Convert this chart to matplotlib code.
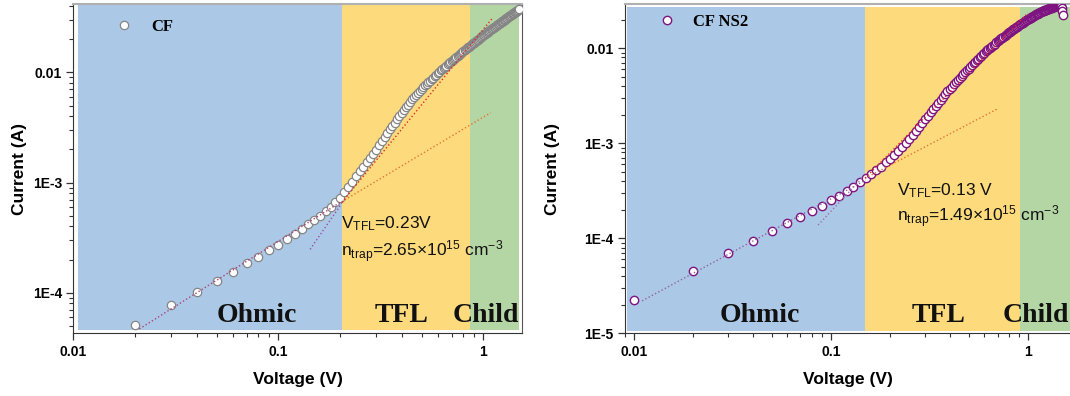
import numpy as np
import matplotlib
matplotlib.use('Agg')
import matplotlib.pyplot as plt
from matplotlib.ticker import LogLocator, NullFormatter

plt.rcParams['mathtext.fontset'] = 'custom'
plt.rcParams['mathtext.rm'] = 'Liberation Sans'
plt.rcParams['mathtext.it'] = 'Liberation Sans'
plt.rcParams['font.family'] = ['Liberation Sans', 'DejaVu Sans']

# sweep voltages (10 mV steps)
cf_voltage = np.arange(2, 151) / 100
ns2_voltage = np.arange(1, 151) / 100

# currents, in mA
cf_current_ma = [
    0.051, 0.077, 0.102, 0.128, 0.155, 0.185, 0.212, 0.246, 0.271,
    0.305, 0.341, 0.376, 0.417, 0.457, 0.500, 0.550, 0.605, 0.660, 0.720,
    0.814, 0.914, 1.02, 1.14, 1.26, 1.39, 1.53, 1.67, 1.82, 1.99,
    2.17, 2.37, 2.58, 2.80, 3.03, 3.26, 3.50, 3.75, 4.01, 4.28,
    4.54, 4.81, 5.09, 5.38, 5.68, 5.95, 6.22, 6.50, 6.79, 7.09,
    7.34, 7.60, 7.87, 8.14, 8.41, 8.69, 8.97, 9.26, 9.55, 9.84,
    10.1, 10.4, 10.7, 10.9, 11.2, 11.5, 11.8, 12.1, 12.4, 12.7,
    13.0, 13.3, 13.5, 13.8, 14.1, 14.4, 14.7, 15.0, 15.3, 15.6,
    15.9, 16.2, 16.5, 16.8, 17.1, 17.4, 17.7, 18.0, 18.3, 18.6,
    18.9, 19.2, 19.5, 19.8, 20.1, 20.4, 20.8, 21.1, 21.4, 21.7,
    22.0, 22.3, 22.6, 22.9, 23.2, 23.5, 23.9, 24.2, 24.5, 24.8,
    25.1, 25.4, 25.7, 26.0, 26.3, 26.7, 27.0, 27.3, 27.6, 27.9,
    28.2, 28.6, 28.9, 29.2, 29.5, 29.8, 30.1, 30.5, 30.8, 31.1,
    31.4, 31.8, 32.1, 32.4, 32.7, 33.0, 33.4, 33.7, 34.0, 34.3,
    34.7, 35.0, 35.3, 35.6, 35.9, 36.3, 36.6, 36.9, 37.2, 37.6,
]
ns2_current_ma = [
    0.0225, 0.0456, 0.0695, 0.094, 0.119, 0.144, 0.167, 0.195, 0.219, 0.253,
    0.281, 0.315, 0.349, 0.389, 0.428, 0.475, 0.524, 0.568, 0.630, 0.690,
    0.750, 0.830, 0.920, 1.01, 1.11, 1.23, 1.36, 1.50, 1.64, 1.80,
    1.95, 2.12, 2.29, 2.47, 2.66, 2.86, 3.07, 3.28, 3.51, 3.74,
    3.95, 4.17, 4.39, 4.62, 4.85, 5.09, 5.34, 5.59, 5.85, 6.11,
    6.37, 6.64, 6.91, 7.19, 7.47, 7.76, 8.05, 8.35, 8.66, 8.97,
    9.24, 9.51, 9.79, 10.1, 10.4, 10.6, 10.9, 11.2, 11.5, 11.8,
    12.1, 12.4, 12.7, 12.9, 13.2, 13.5, 13.8, 14.1, 14.4, 14.7,
    14.9, 15.2, 15.5, 15.8, 16.0, 16.3, 16.6, 16.9, 17.2, 17.5,
    17.8, 18.0, 18.3, 18.6, 18.9, 19.1, 19.4, 19.7, 20.0, 20.3,
    20.5, 20.8, 21.0, 21.2, 21.5, 21.7, 22.0, 22.2, 22.5, 22.7,
    22.9, 23.1, 23.3, 23.5, 23.8, 24.0, 24.2, 24.4, 24.6, 24.8,
    25.0, 25.1, 25.3, 25.4, 25.6, 25.8, 25.9, 26.1, 26.3, 26.4,
    26.6, 26.8, 27.0, 27.1, 27.3, 27.5, 27.6, 27.8, 28.0, 28.1,
    28.3, 28.4, 28.5, 28.6, 28.6, 28.4, 27.6, 26.2, 24.4, 22.5,
]

# fitted lines (end points, V and A)
cf_fit_ohmic_v, cf_fit_ohmic_i = [0.021, 0.20], [4.7e-5, 6.6e-4]
cf_fit_steep_v, cf_fit_steep_i = [0.143, 0.204], [2.48e-4, 6.47e-4]
cf_fit_orange_v, cf_fit_orange_i = [0.204, 1.086], [6.7e-4, 4.3e-3]
cf_fit_tfl_v, cf_fit_tfl_i = [0.204, 1.10], [6.6e-4, 3.05e-2]

ns2_fit_ohmic_v, ns2_fit_ohmic_i = [0.011, 0.15], [2.2e-5, 4.1e-4]
ns2_fit_steep_v, ns2_fit_steep_i = [0.086, 0.146], [1.38e-4, 4.45e-4]
ns2_fit_orange_v, ns2_fit_orange_i = [0.149, 0.694], [4.28e-4, 2.28e-3]
ns2_fit_tfl_v, ns2_fit_tfl_i = [0.149, 1.0], [4.3e-4, 2.35e-2]

# region limits (V)
cf_regions = [0.0105, 0.205, 0.861, 1.50]
ns2_regions = [0.0092, 0.148, 0.91, 1.70]
region_names = ['Ohmic', 'TFL', 'Child']
region_colors = ['#abc9e6', '#fddb7c', '#b4d6a4']

x_ticks = [0.01, 0.1, 1]
x_tick_labels = ['0.01', '0.1', '1']
cf_y_ticks = [1e-4, 1e-3, 1e-2]
cf_y_tick_labels = ['1E-4', '1E-3', '0.01']
ns2_y_ticks = [1e-5, 1e-4, 1e-3, 1e-2]
ns2_y_tick_labels = ['1E-5', '1E-4', '1E-3', '0.01']

SANS_B = dict(family='Liberation Sans', weight='bold')
SERIF_B = dict(family='Liberation Serif', weight='bold')


def style_axes(ax, xlim, ylim, yticks, ylabels, ypad):
    ax.set_xscale('log')
    ax.set_yscale('log')
    ax.set_xlim(*xlim)
    ax.set_ylim(*ylim)
    ax.set_xticks(x_ticks)
    ax.set_xticklabels(x_tick_labels, fontsize=10, **SANS_B)
    ax.set_yticks(yticks)
    ax.set_yticklabels(ylabels, fontsize=10, **SANS_B)
    for axis in (ax.xaxis, ax.yaxis):
        axis.set_minor_locator(LogLocator(base=10, subs=np.arange(2, 10)))
        axis.set_minor_formatter(NullFormatter())
    ax.tick_params(which='major', direction='out', length=5, width=0.9, color='#333333', pad=3)
    ax.tick_params(which='minor', direction='out', length=3, width=0.8, color='#333333')
    ax.spines['left'].set_color('#333333')
    ax.spines['bottom'].set_color('#333333')
    ax.spines['top'].set_color('#b0b0b0')
    ax.spines['top'].set_linewidth(1.5)
    ax.spines['right'].set_color('#555555')
    ax.set_xlabel('Voltage (V)', fontsize=12.5, labelpad=10, **SANS_B)
    ax.set_ylabel('Current (A)', fontsize=12.5, labelpad=ypad, **SANS_B)


def shade(ax, limits, ymin, ymax):
    for k in range(3):
        ax.axvspan(limits[k], limits[k + 1], ymin=ymin, ymax=ymax,
                   color=region_colors[k], lw=0, zorder=0)


fig = plt.figure(figsize=(10.7, 3.96), dpi=100)

# ---- left: CF ----
ax1 = fig.add_axes([0.0685, 0.158, 0.4191, 0.832])
shade(ax1, cf_regions, 0.010, 0.997)
cf_current = np.array(cf_current_ma) * 1e-3
ax1.plot(cf_voltage, cf_current, 'o', ms=6, mfc='white', mec='#858585', mew=0.9,
         label='CF', zorder=3)
ax1.plot(cf_fit_ohmic_v, cf_fit_ohmic_i, ':', color='#b0407a', lw=1.0, zorder=4)
ax1.plot(cf_fit_steep_v, cf_fit_steep_i, ':', color='#9a50a8', lw=1.0, zorder=4)
ax1.plot(cf_fit_orange_v, cf_fit_orange_i, ':', color='#e5742c', lw=1.0, zorder=4)
ax1.plot(cf_fit_tfl_v, cf_fit_tfl_i, ':', color='#dc2a2a', lw=1.0, zorder=4)
style_axes(ax1, (0.01, 1.54), (4.28e-5, 0.0417), cf_y_ticks, cf_y_tick_labels, 4.5)
ax1.legend(loc='upper left', bbox_to_anchor=(0.08, 0.975), frameon=False,
           handlelength=1.0, handletextpad=1.1, borderaxespad=0,
           prop=dict(family='Liberation Serif', weight='bold', size=12))
ax1.text(0.597, 0.32, r'V$_{\mathrm{TFL}}$=0.23V', transform=ax1.transAxes,
         fontsize=12.5, va='baseline', ha='left', color='#111111')
ax1.text(0.597, 0.232, r'n$_{\mathrm{trap}}$=2.65$\times$10$^{15}$ cm$^{-3}$',
         transform=ax1.transAxes, fontsize=12.5, va='baseline', ha='left', color='#111111')
for name, xf in zip(region_names, [0.409, 0.733, 0.92]):
    ax1.text(xf, 0.034, name, transform=ax1.transAxes, fontsize=20, ha='center',
             va='baseline', color='#111111', **SERIF_B)

# ---- right: CF NS2 ----
ax2 = fig.add_axes([0.584, 0.158, 0.4178, 0.832])
shade(ax2, ns2_regions, 0.007, 0.99)
ns2_current = np.array(ns2_current_ma) * 1e-3
ax2.plot(ns2_voltage, ns2_current, 'o', ms=6, mfc='white', mec='#7d1480', mew=1.0,
         label='CF NS2', zorder=3)
ax2.plot(ns2_fit_ohmic_v, ns2_fit_ohmic_i, ':', color='#9060a0', lw=1.0, zorder=4)
ax2.plot(ns2_fit_steep_v, ns2_fit_steep_i, ':', color='#a070b0', lw=1.0, zorder=4)
ax2.plot(ns2_fit_orange_v, ns2_fit_orange_i, ':', color='#e5742c', lw=1.0, zorder=4)
ax2.plot(ns2_fit_tfl_v, ns2_fit_tfl_i, ':', color='#dc2a2a', lw=1.0, zorder=4)
style_axes(ax2, (0.009, 1.67), (1e-5, 0.0292), ns2_y_ticks, ns2_y_tick_labels, 18)
ax2.legend(loc='upper left', bbox_to_anchor=(0.06, 0.99), frameon=False,
           handlelength=1.0, handletextpad=1.1, borderaxespad=0,
           prop=dict(family='Liberation Serif', weight='bold', size=12))
ax2.text(0.608, 0.42, r'V$_{\mathrm{TFL}}$=0.13 V', transform=ax2.transAxes,
         fontsize=12.5, va='baseline', ha='left', color='#111111')
ax2.text(0.608, 0.339, r'n$_{\mathrm{trap}}$=1.49$\times$10$^{15}$ cm$^{-3}$',
         transform=ax2.transAxes, fontsize=12.5, va='baseline', ha='left', color='#111111')
for name, xf, ha in zip(region_names, [0.301, 0.702, 0.845], ['center', 'center', 'left']):
    ax2.text(xf, 0.035, name, transform=ax2.transAxes, fontsize=20, ha=ha,
             va='baseline', color='#111111', **SERIF_B)

fig.savefig('out.png', dpi=100)
